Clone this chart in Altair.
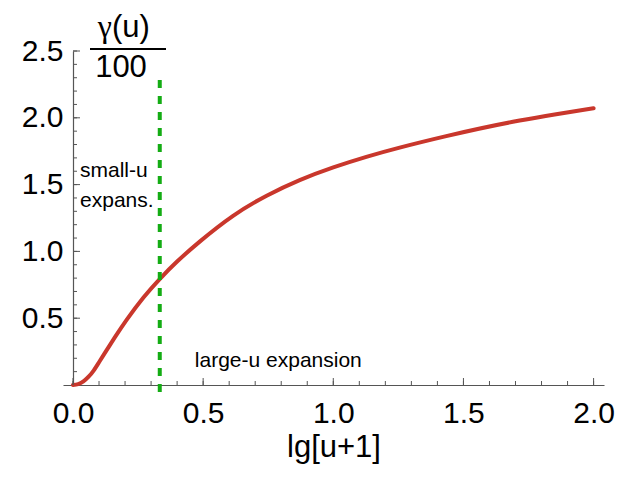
import altair as alt
import pandas as pd

# curve values
lg_u1 = [0.0, 0.02, 0.04, 0.06, 0.08, 0.10, 0.13, 0.16, 0.206, 0.27, 0.334, 0.40, 0.488,
         0.615, 0.744, 0.871, 1.0, 1.127, 1.255, 1.434, 1.69, 2.0]
gamma_over_100 = [0.0, 0.007, 0.0275, 0.062, 0.110, 0.170, 0.263, 0.354, 0.487, 0.653, 0.795,
                  0.924, 1.075, 1.266, 1.417, 1.534, 1.629, 1.708, 1.777, 1.863, 1.970, 2.072]

split_x = 1 / 3
split_y = [-0.052, 2.305]

x_labels = [0.0, 0.5, 1.0, 1.5, 2.0]
y_labels = [0.5, 1.0, 1.5, 2.0, 2.5]
x_minor = [round(i * 0.1, 1) for i in range(0, 21)]
y_minor = [round(i * 0.1, 1) for i in range(1, 26)]
x_major = [0.0, 0.5, 1.0, 1.5, 2.0]
y_major = [0.5, 1.0, 1.5, 2.0, 2.5]

W, H = 541, 334
AX_X = 10  # pixel position of the y-axis (x = 0) inside the plot area

xs = alt.Scale(domain=[-0.0384, 2.04], nice=False, zero=False)
ys = alt.Scale(domain=[0, 2.5], nice=False, zero=False)

curve_df = pd.DataFrame({"x": lg_u1, "y": gamma_over_100})

axis_col = "#555555"

curve = alt.Chart(curve_df).mark_line(
    color="#c9372c", strokeWidth=4, interpolate="natural", strokeCap="round"
).encode(
    x=alt.X("x:Q", scale=xs, axis=alt.Axis(
        values=x_labels, format=".1f", ticks=False, tickSize=0, grid=False,
        labelFontSize=30, labelPadding=13, labelColor="black", labelFlush=False,
        domainColor=axis_col, domainWidth=1.2,
        title="lg[u+1]", titleFontSize=31, titleFontWeight="normal",
        titleColor="black", titlePadding=4)),
    y=alt.Y("y:Q", scale=ys, axis=alt.Axis(
        values=y_labels, format=".1f", ticks=False, tickSize=0, grid=False,
        labelFontSize=30, labelPadding=10, labelColor="black",
        labelFlush=False, domainColor=axis_col, domainWidth=1.2,
        offset=-AX_X, title=None)),
)

split = alt.Chart(pd.DataFrame({"x": [split_x], "y": [split_y[0]], "y2": [split_y[1]]})).mark_rule(
    color="#14ac14", strokeWidth=4, strokeDash=[8, 8]
).encode(
    x=alt.X("x:Q", scale=xs),
    y=alt.Y("y:Q", scale=ys),
    y2="y2:Q",
)

def xticks(vals, length):
    return alt.Chart(pd.DataFrame({"t": vals})).mark_rule(color=axis_col, strokeWidth=1).encode(
        x=alt.X("t:Q", scale=xs),
        y=alt.value(H),
        y2=alt.value(H - length),
    )

def yticks(vals, length):
    return alt.Chart(pd.DataFrame({"t": vals})).mark_rule(color=axis_col, strokeWidth=1).encode(
        y=alt.Y("t:Q", scale=ys),
        x=alt.value(AX_X),
        x2=alt.value(AX_X + length),
    )

ann_df = pd.DataFrame({
    "x": [0.027, 0.027, 0.468],
    "y": [1.557, 1.332, 0.135],
    "label": ["small-u", "expans.", "large-u expansion"],
})
ann = alt.Chart(ann_df).mark_text(
    align="left", baseline="alphabetic", fontSize=21, color="black"
).encode(
    x=alt.X("x:Q", scale=xs),
    y=alt.Y("y:Q", scale=ys),
    text="label:N",
)

# y-axis title written as a fraction gamma(u) / 100
gam = alt.Chart(pd.DataFrame({"t": ["γ"]})).mark_text(
    align="right", baseline="alphabetic", fontSize=32, color="black", font="Liberation Serif"
).encode(x=alt.value(49), y=alt.value(-14), text="t:N")
num = alt.Chart(pd.DataFrame({"t": ["(u)"]})).mark_text(
    align="left", baseline="alphabetic", fontSize=31, color="black"
).encode(x=alt.value(49), y=alt.value(-14), text="t:N")
den = alt.Chart(pd.DataFrame({"t": ["100"]})).mark_text(
    align="center", baseline="alphabetic", fontSize=31, color="black"
).encode(x=alt.value(58), y=alt.value(26), text="t:N")
bar = alt.Chart(pd.DataFrame({"t": [0]})).mark_rule(color="black", strokeWidth=2).encode(
    x=alt.value(27), x2=alt.value(103), y=alt.value(-2)
)

chart = alt.layer(
    curve, xticks(x_minor, 4), xticks(x_major, 7), yticks(y_minor, 4), yticks(y_major, 7),
    split, ann, gam, num, den, bar,
).properties(
    width=W, height=H,
    autosize=alt.AutoSizeParams(type="none"),
    padding={"left": 63, "top": 51, "right": 37, "bottom": 100},
).configure(
    font="Liberation Sans",
).configure_view(
    stroke=None,
)

chart.save("out.html", embed_options={"renderer": "svg", "actions": False})
